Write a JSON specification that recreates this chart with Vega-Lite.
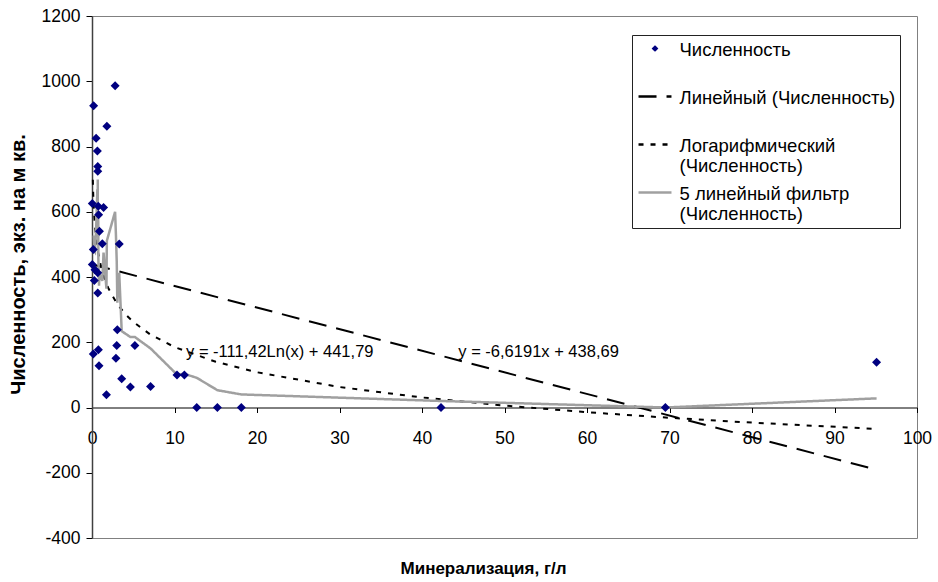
{
  "$schema": "https://vega.github.io/schema/vega-lite/v6.json",
  "width": 825,
  "height": 522,
  "autosize": {"type": "none"},
  "padding": {"left": 92, "top": 16, "right": 21, "bottom": 44},
  "background": "white",
  "config": {
    "font": "Liberation Sans",
    "view": {"stroke": "#808080", "strokeWidth": 1},
    "style": {"guide-label": {"dy": -8}}
  },
  "datasets": {
    "pts": [
      {"x": 0.04, "y": 625, "series": "Численность"},
      {"x": 0.04, "y": 438, "series": "Численность"},
      {"x": 0.16, "y": 484, "series": "Численность"},
      {"x": 0.16, "y": 164, "series": "Численность"},
      {"x": 0.2, "y": 925, "series": "Численность"},
      {"x": 0.28, "y": 389, "series": "Численность"},
      {"x": 0.36, "y": 422, "series": "Численность"},
      {"x": 0.5, "y": 825, "series": "Численность"},
      {"x": 0.65, "y": 786, "series": "Численность"},
      {"x": 0.7, "y": 739, "series": "Численность"},
      {"x": 0.7, "y": 724, "series": "Численность"},
      {"x": 0.7, "y": 413, "series": "Численность"},
      {"x": 0.7, "y": 351, "series": "Численность"},
      {"x": 0.76, "y": 617, "series": "Численность"},
      {"x": 0.77, "y": 177, "series": "Численность"},
      {"x": 0.8, "y": 591, "series": "Численность"},
      {"x": 0.85, "y": 128, "series": "Численность"},
      {"x": 0.9, "y": 540, "series": "Численность"},
      {"x": 1.25, "y": 502, "series": "Численность"},
      {"x": 1.4, "y": 613, "series": "Численность"},
      {"x": 1.75, "y": 39, "series": "Численность"},
      {"x": 1.8, "y": 862, "series": "Численность"},
      {"x": 2.8, "y": 986, "series": "Численность"},
      {"x": 2.9, "y": 151, "series": "Численность"},
      {"x": 3.0, "y": 190, "series": "Численность"},
      {"x": 3.07, "y": 238, "series": "Численность"},
      {"x": 3.3, "y": 501, "series": "Численность"},
      {"x": 3.6, "y": 88, "series": "Численность"},
      {"x": 4.65, "y": 63, "series": "Численность"},
      {"x": 5.2, "y": 190, "series": "Численность"},
      {"x": 7.1, "y": 64, "series": "Численность"},
      {"x": 10.3, "y": 100, "series": "Численность"},
      {"x": 11.2, "y": 100, "series": "Численность"},
      {"x": 12.7, "y": 0, "series": "Численность"},
      {"x": 15.2, "y": 0, "series": "Численность"},
      {"x": 18.1, "y": 0, "series": "Численность"},
      {"x": 42.3, "y": 0, "series": "Численность"},
      {"x": 69.5, "y": 0, "series": "Численность"},
      {"x": 95.1, "y": 139, "series": "Численность"}
    ],
    "lin": [
      {"x": 0.04, "y": 438.4, "series": "Линейный (Численность)"},
      {"x": 95.1, "y": -190.8, "series": "Линейный (Численность)"}
    ],
    "log": [
      {"x": 0.1, "y": 698.3, "series": "Логарифмический (Численность)"},
      {"x": 0.15, "y": 653.2, "series": "Логарифмический (Численность)"},
      {"x": 0.2, "y": 621.1, "series": "Логарифмический (Численность)"},
      {"x": 0.3, "y": 575.9, "series": "Логарифмический (Численность)"},
      {"x": 0.5, "y": 519.0, "series": "Логарифмический (Численность)"},
      {"x": 0.75, "y": 473.8, "series": "Логарифмический (Численность)"},
      {"x": 1, "y": 441.8, "series": "Логарифмический (Численность)"},
      {"x": 1.5, "y": 396.6, "series": "Логарифмический (Численность)"},
      {"x": 2, "y": 364.6, "series": "Логарифмический (Численность)"},
      {"x": 3, "y": 319.4, "series": "Логарифмический (Численность)"},
      {"x": 4, "y": 287.3, "series": "Логарифмический (Численность)"},
      {"x": 5, "y": 262.5, "series": "Логарифмический (Численность)"},
      {"x": 7, "y": 225.0, "series": "Логарифмический (Численность)"},
      {"x": 10, "y": 185.2, "series": "Логарифмический (Численность)"},
      {"x": 15, "y": 140.1, "series": "Логарифмический (Численность)"},
      {"x": 20, "y": 108.0, "series": "Логарифмический (Численность)"},
      {"x": 30, "y": 62.8, "series": "Логарифмический (Численность)"},
      {"x": 40, "y": 30.8, "series": "Логарифмический (Численность)"},
      {"x": 50, "y": 5.9, "series": "Логарифмический (Численность)"},
      {"x": 60, "y": -14.4, "series": "Логарифмический (Численность)"},
      {"x": 70, "y": -31.6, "series": "Логарифмический (Численность)"},
      {"x": 80, "y": -46.4, "series": "Логарифмический (Численность)"},
      {"x": 95.1, "y": -65.7, "series": "Логарифмический (Численность)"}
    ],
    "ma": [
      {"n": 1, "x": 0.2, "y": 527, "series": "5 линейный фильтр (Численность)"},
      {"n": 2, "x": 0.28, "y": 480, "series": "5 линейный фильтр (Численность)"},
      {"n": 3, "x": 0.36, "y": 477, "series": "5 линейный фильтр (Численность)"},
      {"n": 4, "x": 0.5, "y": 545, "series": "5 линейный фильтр (Численность)"},
      {"n": 5, "x": 0.65, "y": 669, "series": "5 линейный фильтр (Численность)"},
      {"n": 6, "x": 0.7, "y": 632, "series": "5 линейный фильтр (Численность)"},
      {"n": 7, "x": 0.7, "y": 699, "series": "5 линейный фильтр (Численность)"},
      {"n": 8, "x": 0.7, "y": 697, "series": "5 линейный фильтр (Численность)"},
      {"n": 9, "x": 0.7, "y": 603, "series": "5 линейный фильтр (Численность)"},
      {"n": 10, "x": 0.76, "y": 569, "series": "5 линейный фильтр (Численность)"},
      {"n": 11, "x": 0.77, "y": 456, "series": "5 линейный фильтр (Численность)"},
      {"n": 12, "x": 0.8, "y": 430, "series": "5 линейный фильтр (Численность)"},
      {"n": 13, "x": 0.85, "y": 373, "series": "5 линейный фильтр (Численность)"},
      {"n": 14, "x": 0.9, "y": 411, "series": "5 линейный фильтр (Численность)"},
      {"n": 15, "x": 1.25, "y": 388, "series": "5 линейный фильтр (Численность)"},
      {"n": 16, "x": 1.4, "y": 475, "series": "5 линейный фильтр (Численность)"},
      {"n": 17, "x": 1.75, "y": 364, "series": "5 линейный фильтр (Численность)"},
      {"n": 18, "x": 1.8, "y": 511, "series": "5 линейный фильтр (Численность)"},
      {"n": 19, "x": 2.8, "y": 600, "series": "5 линейный фильтр (Численность)"},
      {"n": 20, "x": 2.9, "y": 530, "series": "5 линейный фильтр (Численность)"},
      {"n": 21, "x": 3.0, "y": 446, "series": "5 линейный фильтр (Численность)"},
      {"n": 22, "x": 3.07, "y": 321, "series": "5 линейный фильтр (Численность)"},
      {"n": 23, "x": 3.3, "y": 413, "series": "5 линейный фильтр (Численность)"},
      {"n": 24, "x": 3.6, "y": 234, "series": "5 линейный фильтр (Численность)"},
      {"n": 25, "x": 4.65, "y": 216, "series": "5 линейный фильтр (Численность)"},
      {"n": 26, "x": 5.2, "y": 216, "series": "5 линейный фильтр (Численность)"},
      {"n": 27, "x": 7.1, "y": 181, "series": "5 линейный фильтр (Численность)"},
      {"n": 28, "x": 10.3, "y": 101, "series": "5 линейный фильтр (Численность)"},
      {"n": 29, "x": 11.2, "y": 103, "series": "5 линейный фильтр (Численность)"},
      {"n": 30, "x": 12.7, "y": 91, "series": "5 линейный фильтр (Численность)"},
      {"n": 31, "x": 15.2, "y": 53, "series": "5 линейный фильтр (Численность)"},
      {"n": 32, "x": 18.1, "y": 40, "series": "5 линейный фильтр (Численность)"},
      {"n": 33, "x": 42.3, "y": 20, "series": "5 линейный фильтр (Численность)"},
      {"n": 34, "x": 69.5, "y": 0, "series": "5 линейный фильтр (Численность)"},
      {"n": 35, "x": 95.1, "y": 28, "series": "5 линейный фильтр (Численность)"}
    ],
    "eq": [
      {"x": 11.4, "y": 171, "label": "y = -111,42Ln(x) + 441,79"},
      {"x": 44.4, "y": 171, "label": "y = -6,6191x + 438,69"}
    ]
  },
  "layer": [
    {
      "data": {"name": "lin"},
      "mark": {"type": "line", "strokeWidth": 2},
      "encoding": {
        "x": {
          "field": "x", "type": "quantitative",
          "scale": {"domain": [0, 100], "nice": false, "zero": false},
          "axis": {
            "title": "Минерализация, г/л",
            "values": [0, 10, 20, 30, 40, 50, 60, 70, 80, 90, 100],
            "format": "d",
            "offset": -130.5,
            "grid": false,
            "domainColor": "#000", "tickColor": "#000", "tickSize": 5,
            "labelPadding": 25, "labelFontSize": 17.5, "labelColor": "#000",
            "labelFlush": false, "labelOverlap": false,
            "titleFontSize": 17, "titleFontWeight": "bold", "titleColor": "#000",
            "titleX": 391, "titleY": 161, "titleAlign": "center", "titleBaseline": "middle"
          }
        },
        "y": {
          "field": "y", "type": "quantitative",
          "scale": {"domain": [-400, 1200], "nice": false, "zero": false},
          "axis": {
            "title": "Численность, экз. на м кв.",
            "values": [-400, -200, 0, 200, 400, 600, 800, 1000, 1200],
            "labelExpr": "datum.value < 0 ? '-' + abs(datum.value) : '' + datum.value",
            "grid": false,
            "domainColor": "#404040", "domainWidth": 1.5, "tickColor": "#000", "tickSize": 6,
            "labelPadding": 6, "labelOffset": 8, "labelFontSize": 17.5, "labelColor": "#000",
            "labelFlush": false, "labelOverlap": false,
            "titleFontSize": 20, "titleFontWeight": "bold", "titleColor": "#000",
            "titleX": -74, "titleY": 248, "titleAngle": -90, "titleAlign": "center", "titleBaseline": "middle"
          }
        },
        "color": {
          "field": "series", "type": "nominal",
          "scale": {
            "domain": ["Численность", "Линейный (Численность)", "Логарифмический (Численность)", "5 линейный фильтр (Численность)"],
            "range": ["#000080", "#000000", "#000000", "#a0a0a0"]
          },
          "legend": {
            "orient": "none", "legendX": 540, "legendY": 19,
            "title": null,
            "padding": 4,
            "strokeColor": "#222", "fillColor": "white",
            "symbolSize": 256, "symbolStrokeWidth": 2.5, "symbolOffset": 9.5,
            "labelFontSize": 18.5, "labelColor": "#000", "labelLimit": 400,
            "labelOffset": 15, "rowPadding": 7,
            "labelBaseline": "top",
            "labelExpr": "datum.label == 'Логарифмический (Численность)' ? ['Логарифмический', '(Численность)'] : datum.label == '5 линейный фильтр (Численность)' ? ['5 линейный фильтр', '(Численность)'] : [datum.label, ' ']"
          }
        },
        "strokeDash": {
          "field": "series", "type": "nominal",
          "scale": {
            "domain": ["Численность", "Линейный (Численность)", "Логарифмический (Численность)", "5 линейный фильтр (Численность)"],
            "range": [[1, 0], [18, 10], [5, 7], [1, 0]]
          }
        }
      }
    },
    {
      "data": {"name": "log"},
      "mark": {"type": "line", "strokeWidth": 2},
      "encoding": {
        "x": {"field": "x", "type": "quantitative"},
        "y": {"field": "y", "type": "quantitative"},
        "color": {"field": "series", "type": "nominal"},
        "strokeDash": {"field": "series", "type": "nominal"}
      }
    },
    {
      "data": {"name": "ma"},
      "mark": {"type": "line", "strokeWidth": 2.5},
      "encoding": {
        "x": {"field": "x", "type": "quantitative"},
        "y": {"field": "y", "type": "quantitative"},
        "order": {"field": "n", "type": "quantitative"},
        "color": {"field": "series", "type": "nominal"},
        "strokeDash": {"field": "series", "type": "nominal"}
      }
    },
    {
      "data": {"name": "pts"},
      "mark": {"type": "point", "filled": true, "size": 2025, "opacity": 1},
      "encoding": {
        "x": {"field": "x", "type": "quantitative"},
        "y": {"field": "y", "type": "quantitative"},
        "color": {"field": "series", "type": "nominal"},
        "shape": {
          "field": "series", "type": "nominal",
          "scale": {
            "domain": ["Численность", "Линейный (Численность)", "Логарифмический (Численность)", "5 линейный фильтр (Численность)"],
            "range": ["M-0.2,0L0,-0.2L0.2,0L0,0.2Z", "M-2.06,0L2.06,0", "M-2.06,0L2.06,0", "M-2.06,0L2.06,0"]
          }
        }
      }
    },
    {
      "data": {"name": "eq"},
      "mark": {"type": "text", "align": "left", "baseline": "middle", "fontSize": 16.5, "color": "#000"},
      "encoding": {
        "x": {"field": "x", "type": "quantitative"},
        "y": {"field": "y", "type": "quantitative"},
        "text": {"field": "label"}
      }
    }
  ]
}
